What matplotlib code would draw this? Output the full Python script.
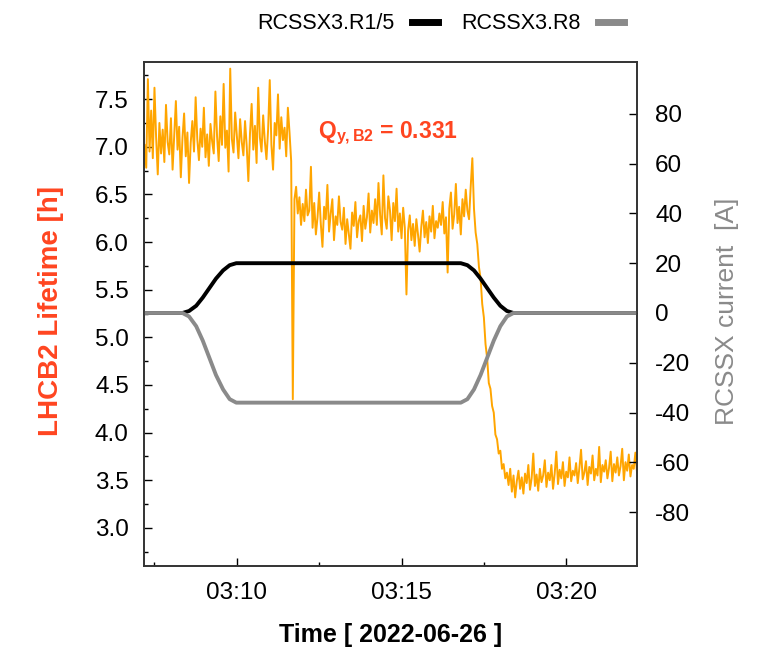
import numpy as np
import matplotlib
matplotlib.use('Agg')
import matplotlib.pyplot as plt
from matplotlib.lines import Line2D
from matplotlib.ticker import MultipleLocator, FixedLocator, AutoMinorLocator, FormatStrFormatter
import matplotlib.dates as mdates

plt.rcParams['font.family'] = ['Liberation Sans', 'DejaVu Sans']
plt.rcParams['axes.unicode_minus'] = False
plt.rcParams['mathtext.fontset'] = 'custom'
plt.rcParams['mathtext.rm'] = 'Liberation Sans'
plt.rcParams['mathtext.it'] = 'Liberation Sans:italic'
plt.rcParams['mathtext.bf'] = 'Liberation Sans:bold'

DAY = '2022-06-26T'

# beam 2 lifetime [h], one sample every 3 s from 03:07:12
lifetime_start = '03:07:12'
lifetime_step_s = 3
lifetime_h = [
    7.02, 6.78, 7.71, 6.95, 7.38, 6.88, 7.62, 7.10, 6.71, 7.25, 6.93, 7.18, 6.84, 7.44, 7.05, 6.92, 7.30, 6.76, 7.12, 7.48,
    6.97, 7.21, 6.68, 7.09, 7.35, 6.90, 7.15, 6.62, 7.04, 7.27, 6.95, 7.52, 7.08, 6.86, 7.19, 7.00, 7.41, 6.89, 7.13, 6.80,
    7.24, 7.06, 6.93, 7.58, 7.11, 6.85, 7.32, 7.02, 7.66, 6.99, 7.17, 6.74, 7.82, 7.08, 6.94, 7.36, 7.12, 6.88, 7.29, 7.05,
    6.91, 7.27, 7.01, 6.64, 7.14, 7.45, 6.97, 7.22, 6.83, 7.62, 7.10, 6.95, 7.33, 7.06, 6.87, 7.18, 7.70, 7.02, 6.76, 7.25,
    7.12, 7.55, 6.98, 7.31, 7.07, 7.20, 6.90, 7.41, 7.15, 6.85, 4.35, 6.45, 6.58, 6.30, 6.47, 6.18, 6.40, 6.22, 6.55, 6.28,
    6.33, 6.79, 6.15, 6.41, 6.08, 6.26, 6.52, 6.19, 5.95, 6.37, 6.24, 6.60, 6.11, 6.30, 6.45, 6.02, 6.27, 6.18, 6.48, 6.21,
    6.13, 6.36, 5.98, 6.24, 6.09, 5.93, 6.31, 6.17, 6.42, 6.05, 6.22, 6.28, 6.01, 6.38, 6.14, 6.26, 6.51, 6.10, 6.33, 6.20,
    6.45, 6.18, 6.62, 6.29, 6.08, 6.70, 6.25, 6.14, 6.48, 6.33, 6.02, 6.41, 6.22, 6.56, 6.11, 6.30, 6.04, 6.36, 6.15, 5.45,
    6.12, 6.28, 6.02, 6.19, 5.96, 6.24, 6.08, 5.90, 6.16, 6.33, 6.05, 6.21, 5.99, 6.27, 6.11, 6.38, 6.04, 6.22, 6.15, 6.30,
    6.18, 6.42, 6.09, 6.26, 5.68, 6.35, 6.52, 6.14, 6.29, 6.61, 6.20, 6.37, 6.08, 6.45, 6.27, 6.55, 6.33, 6.24, 6.58, 6.88,
    6.35, 6.10, 5.98, 5.74, 5.62, 5.35, 5.21, 4.93, 4.78, 4.52, 4.46, 4.28, 4.21, 3.98, 3.93, 3.78, 3.81, 3.62, 3.67, 3.52,
    3.58, 3.45, 3.62, 3.38, 3.55, 3.32, 3.49, 3.60, 3.41, 3.53, 3.36, 3.57, 3.47, 3.66, 3.40, 3.52, 3.78, 3.44, 3.56, 3.39,
    3.62, 3.48, 3.55, 3.71, 3.43, 3.58, 3.50, 3.66, 3.41, 3.57, 3.80, 3.46, 3.61, 3.52, 3.69, 3.44, 3.59, 3.53, 3.74, 3.49,
    3.60, 3.55, 3.68, 3.47, 3.63, 3.82, 3.51, 3.58, 3.70, 3.45, 3.64, 3.57, 3.76, 3.50, 3.62, 3.55, 3.85, 3.48, 3.66, 3.59,
    3.71, 3.52, 3.63, 3.80, 3.49, 3.67, 3.58, 3.74, 3.55, 3.65, 3.83, 3.50, 3.69, 3.60, 3.77, 3.54, 3.66, 3.62, 3.79, 3.58,
]

# sextupole trim currents [A]
ramp_times = ['03:07:10', '03:08:21', '03:08:33', '03:08:46', '03:08:58', '03:09:10', '03:09:22',
              '03:09:35', '03:09:47', '03:09:59', '03:16:48', '03:17:00', '03:17:12', '03:17:24',
              '03:17:36', '03:17:48', '03:18:00', '03:18:12', '03:18:24', '03:22:10']
r15_current = [0, 0, 0.8, 2.9, 6.2, 10.0, 13.8, 17.1, 19.2, 20,
               20, 19.2, 17.1, 13.8, 10.0, 6.2, 2.9, 0.8, 0, 0]
r8_current = [0, 0, -1.4, -5.3, -11.1, -18.0, -24.9, -30.7, -34.6, -36,
              -36, -34.6, -30.7, -24.9, -18.0, -11.1, -5.3, -1.4, 0, 0]

lifetime_ticks = [3.0, 3.5, 4.0, 4.5, 5.0, 5.5, 6.0, 6.5, 7.0, 7.5]
current_ticks = [-80, -60, -40, -20, 0, 20, 40, 60, 80]

RED = '#ff4520'
ORANGE = '#ffa500'
GREY = '#8a8a8a'


def hms(s):
    return np.datetime64(DAY + s)


t_life = hms(lifetime_start) + np.arange(len(lifetime_h)) * np.timedelta64(lifetime_step_s, 's')
t_ramp = np.array([hms(s) for s in ramp_times])

fig = plt.figure(figsize=(7.69, 6.56), dpi=100)
ax = fig.add_axes([0.1873, 0.1372, 0.6411, 0.7683])
ax2 = ax.twinx()

ax.plot(t_life, lifetime_h, color=ORANGE, lw=1.4)
ax2.plot(t_ramp, r15_current, color='black', lw=2.8)
ax2.plot(t_ramp, r8_current, color=GREY, lw=2.8)

ax.set_xlim(hms('03:07:11'), hms('03:22:09'))
ax.set_ylim(2.60, 7.89)
ax2.set_ylim(-101.6, 100.8)

ax.xaxis.set_major_locator(mdates.MinuteLocator(byminute=range(0, 60, 5)))
ax.xaxis.set_minor_locator(AutoMinorLocator(2))
ax.xaxis.set_major_formatter(mdates.DateFormatter('%H:%M'))
ax.yaxis.set_major_locator(FixedLocator(lifetime_ticks))
ax.yaxis.set_minor_locator(MultipleLocator(0.25))
ax.yaxis.set_major_formatter(FormatStrFormatter('%.1f'))
ax2.yaxis.set_major_locator(FixedLocator(current_ticks))

ax.tick_params(which='major', direction='in', length=5.5, width=1, labelsize=17.5,
               top=False, right=False)
ax.tick_params(which='minor', direction='in', length=3, width=1, top=False, right=False)
ax.tick_params(axis='y', pad=11)
ax.tick_params(axis='x', pad=11.5)
ax2.tick_params(axis='y', direction='in', length=5.5, width=1, labelsize=17.5, pad=13)

for a in (ax, ax2):
    for sp in a.spines.values():
        sp.set_color('#333333')
        sp.set_linewidth(1.2)

ax.set_xlabel('Time [ 2022-06-26 ]', fontsize=18, fontweight='bold')
ax.xaxis.set_label_coords(0.5, -0.113)
ax.set_ylabel('LHCB2 Lifetime [h]', color=RED, fontsize=20, fontweight='bold')
ax.yaxis.set_label_coords(-0.162, 0.505)
ax2.set_ylabel('RCSSX current  [A]', color=GREY, fontsize=19)
ax2.yaxis.set_label_coords(1.158, 0.505)

ax.text(0.353, 0.859, r'$\mathbf{Q_{y,B2}}$ = 0.331', transform=ax.transAxes,
        color=RED, fontsize=16.5, fontweight='bold', ha='left', va='center')

handles = [Line2D([], [], color='black', lw=5), Line2D([], [], color=GREY, lw=5)]
fig.legend(handles, ['RCSSX3.R1/5', 'RCSSX3.R8'], loc='center', bbox_to_anchor=(0.573, 0.964),
           ncol=2, frameon=False, markerfirst=False, fontsize=15.5,
           handlelength=1.2, handletextpad=0.8, columnspacing=1.1)

fig.savefig('out.png', dpi=100)
